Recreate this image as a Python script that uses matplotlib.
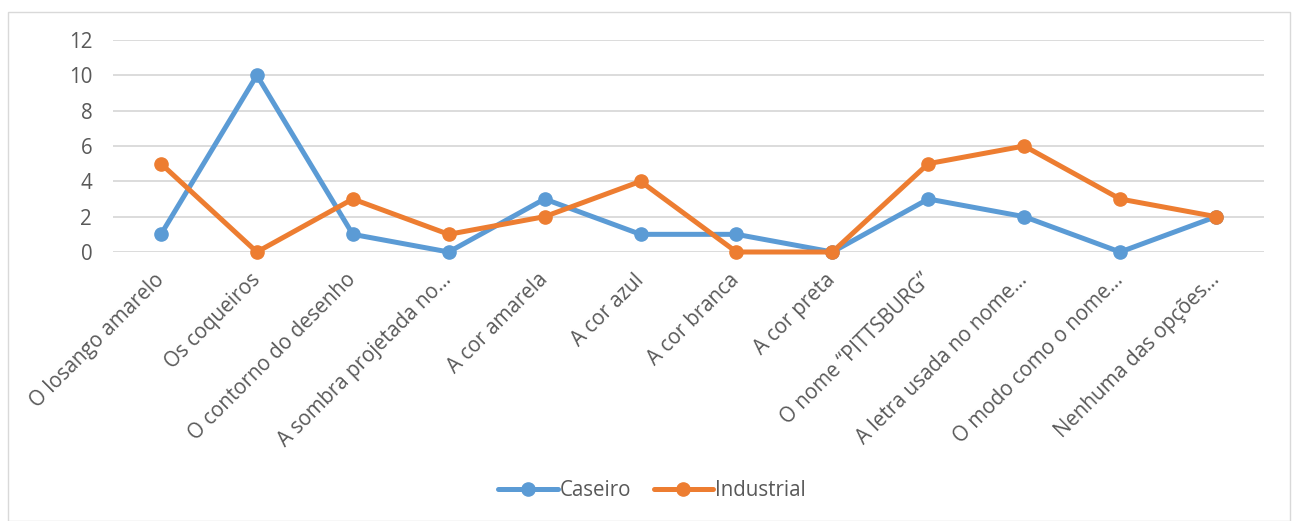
import matplotlib
matplotlib.use("Agg")
import matplotlib.pyplot as plt
from matplotlib.patches import Rectangle

categories = ["O losango amarelo", "Os coqueiros", "O contorno do desenho",
              "A sombra projetada no…", "A cor amarela", "A cor azul",
              "A cor branca", "A cor preta", "O nome “PITTSBURG”",
              "A letra usada no nome…", "O modo como o nome…",
              "Nenhuma das opções…"]
caseiro = [1, 10, 1, 0, 3, 1, 1, 0, 3, 2, 0, 2]
industrial = [5, 0, 3, 1, 2, 4, 0, 0, 5, 6, 3, 2]
yticks = [0, 2, 4, 6, 8, 10, 12]

plt.rcParams['font.family'] = ['Open Sans', 'DejaVu Sans']
text_color = '#595959'
fs = 14.8

fig = plt.figure(figsize=(12.96, 5.21), dpi=100)
fig.patches.append(Rectangle((8/1296, 0), 1282/1296, 509/521, transform=fig.transFigure,
                             fill=False, edgecolor='#D9D9D9', linewidth=1))
ax = fig.add_axes([113/1296, 269/521, 1151/1296, 212/521])
x = list(range(len(categories)))
ax.plot(x, caseiro, color='#5B9BD5', lw=3.6, marker='o', ms=9.5, label='Caseiro',
        solid_capstyle='round', zorder=3)
ax.plot(x, industrial, color='#ED7D31', lw=3.6, marker='o', ms=9.5, label='Industrial',
        solid_capstyle='round', zorder=3)
ax.set_xlim(-0.5, len(categories) - 0.5)
ax.set_ylim(0, 12)
ax.set_yticks(yticks)
ax.set_yticklabels([str(v) for v in yticks])
ax.yaxis.grid(True, color='#D9D9D9', lw=1.3)
ax.set_axisbelow(True)
for s in ax.spines.values():
    s.set_visible(False)
ax.tick_params(axis='both', length=0, colors=text_color, labelsize=fs)
ax.tick_params(axis='y', pad=15)
ax.set_xticks(x)
ax.set_xticklabels(categories, rotation=45, ha='right', va='center', rotation_mode='anchor')
ax.tick_params(axis='x', pad=18)
for l in ax.lines:
    l.set_clip_on(False)
leg = fig.legend(loc='center', bbox_to_anchor=(652/1296, 1 - 491/521), ncol=2, frameon=False,
                 fontsize=fs, handlelength=2.9, handletextpad=0.1, columnspacing=1.1)
for t in leg.get_texts():
    t.set_color(text_color)
fig.savefig('out.png', dpi=100)
